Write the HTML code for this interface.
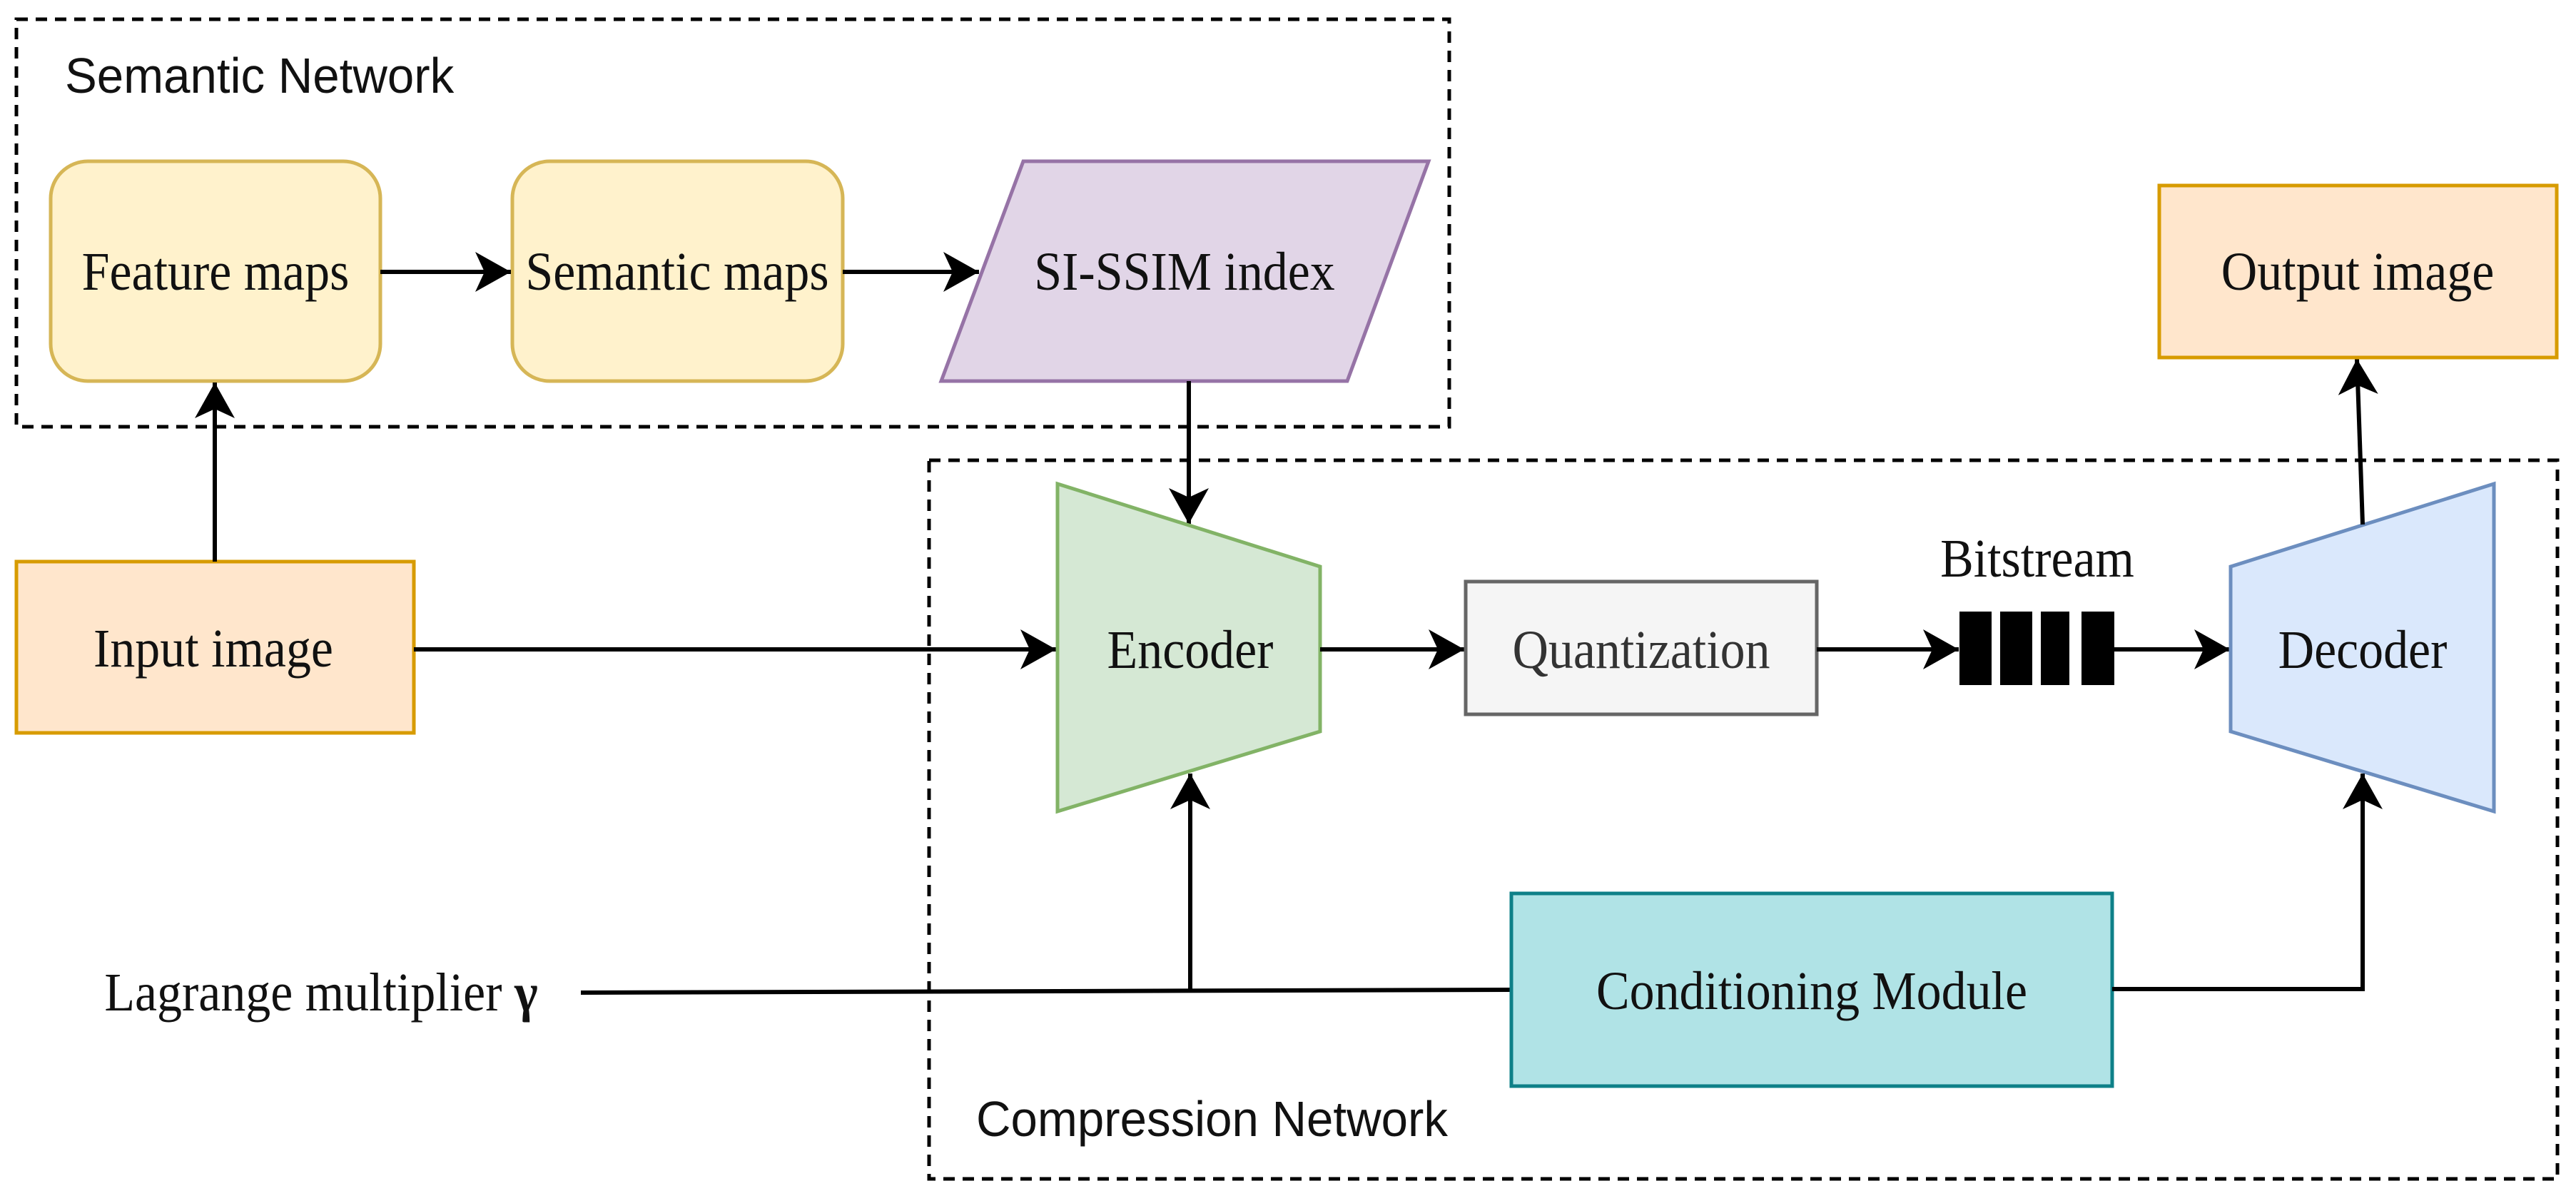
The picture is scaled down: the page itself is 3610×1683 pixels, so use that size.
<!DOCTYPE html>
<html><head><meta charset="utf-8"><style>
html,body{margin:0;padding:0;background:#fff;}
svg{display:block;}
.s{font-family:"Liberation Serif",serif;font-size:76px;fill:#111;transform-box:fill-box;transform-origin:center;transform:scaleX(0.92);}
.a{font-family:"Liberation Sans",sans-serif;font-size:70px;fill:#111;transform-box:fill-box;transform-origin:left center;transform:scaleX(0.96);}
</style></head><body>
<svg width="3610" height="1683" viewBox="0 0 3610 1683" xmlns="http://www.w3.org/2000/svg">
<defs>
<marker id="ar" markerWidth="54" markerHeight="56" refX="50" refY="28" markerUnits="userSpaceOnUse" orient="auto">
<path d="M0,0 L50,28 L0,56 L13,28 Z" fill="#000"/>
</marker>
</defs>
<rect x="23" y="27" width="2008" height="571" fill="none" stroke="#000" stroke-width="5" stroke-dasharray="16,11"/>
<rect x="1302" y="645" width="2282" height="1007" fill="none" stroke="#000" stroke-width="5" stroke-dasharray="16,11"/>
<text class="a" x="91" y="130">Semantic Network</text>
<text class="a" x="1368" y="1592">Compression Network</text>

<rect x="71" y="226" width="462" height="308" rx="52" fill="#fff2cc" stroke="#d6b656" stroke-width="5"/>
<text class="s" x="302" y="406" text-anchor="middle">Feature maps</text>
<rect x="718" y="226" width="463" height="308" rx="52" fill="#fff2cc" stroke="#d6b656" stroke-width="5"/>
<text class="s" x="949" y="406" text-anchor="middle">Semantic maps</text>
<polygon points="1434,226 2002,226 1888,534 1319,534" fill="#e1d5e7" stroke="#9673a6" stroke-width="5"/>
<text class="s" x="1660" y="406" text-anchor="middle">SI-SSIM index</text>

<line x1="533" y1="381" x2="716" y2="381" stroke="#000" stroke-width="6" marker-end="url(#ar)"/>
<line x1="1181" y1="381" x2="1372" y2="381" stroke="#000" stroke-width="6" marker-end="url(#ar)"/>

<rect x="23" y="787" width="557" height="240" fill="#ffe6cc" stroke="#d79b00" stroke-width="5"/>
<text class="s" x="299" y="934" text-anchor="middle">Input image</text>
<line x1="301" y1="787" x2="301" y2="536" stroke="#000" stroke-width="6" marker-end="url(#ar)"/>
<line x1="580" y1="910" x2="1480" y2="910" stroke="#000" stroke-width="6" marker-end="url(#ar)"/>
<line x1="1666" y1="534" x2="1666" y2="734" stroke="#000" stroke-width="6" marker-end="url(#ar)"/>

<polygon points="1482,678 1850,794 1850,1025 1482,1137" fill="#d5e8d4" stroke="#82b366" stroke-width="5"/>
<text class="s" x="1668" y="936" text-anchor="middle">Encoder</text>
<line x1="1850" y1="910" x2="2052" y2="910" stroke="#000" stroke-width="6" marker-end="url(#ar)"/>

<rect x="2054" y="815" width="492" height="186" fill="#f5f5f5" stroke="#666" stroke-width="5"/>
<text class="s" x="2300" y="936" text-anchor="middle" style="fill:#333">Quantization</text>
<line x1="2546" y1="910" x2="2745" y2="910" stroke="#000" stroke-width="6" marker-end="url(#ar)"/>

<text class="s" x="2855" y="808" text-anchor="middle">Bitstream</text>
<rect x="2746" y="857" width="45" height="103" fill="#000"/>
<rect x="2803" y="857" width="45" height="103" fill="#000"/>
<rect x="2860" y="857" width="40" height="103" fill="#000"/>
<rect x="2917" y="857" width="46" height="103" fill="#000"/>
<line x1="2963" y1="910" x2="3125" y2="910" stroke="#000" stroke-width="6" marker-end="url(#ar)"/>

<polygon points="3126,794 3495,678 3495,1137 3126,1025" fill="#dae8fc" stroke="#6c8ebf" stroke-width="5"/>
<text class="s" x="3311" y="936" text-anchor="middle">Decoder</text>
<line x1="3311" y1="735" x2="3303" y2="503" stroke="#000" stroke-width="6" marker-end="url(#ar)"/>

<rect x="3026" y="260" width="557" height="241" fill="#ffe6cc" stroke="#d79b00" stroke-width="5"/>
<text class="s" x="3304" y="406" text-anchor="middle">Output image</text>

<text class="s" x="450" y="1416" text-anchor="middle">Lagrange multiplier <tspan font-weight="bold">γ</tspan></text>
<polyline points="814,1391 2118,1387" fill="none" stroke="#000" stroke-width="6"/>
<line x1="1668" y1="1389" x2="1668" y2="1084" stroke="#000" stroke-width="6" marker-end="url(#ar)"/>

<rect x="2118" y="1252" width="842" height="270" fill="#b0e3e6" stroke="#0e8088" stroke-width="5"/>
<text class="s" x="2539" y="1414" text-anchor="middle">Conditioning Module</text>
<polyline points="2960,1386 3311,1386 3311,1084" fill="none" stroke="#000" stroke-width="6" marker-end="url(#ar)"/>
</svg>
</body></html>
